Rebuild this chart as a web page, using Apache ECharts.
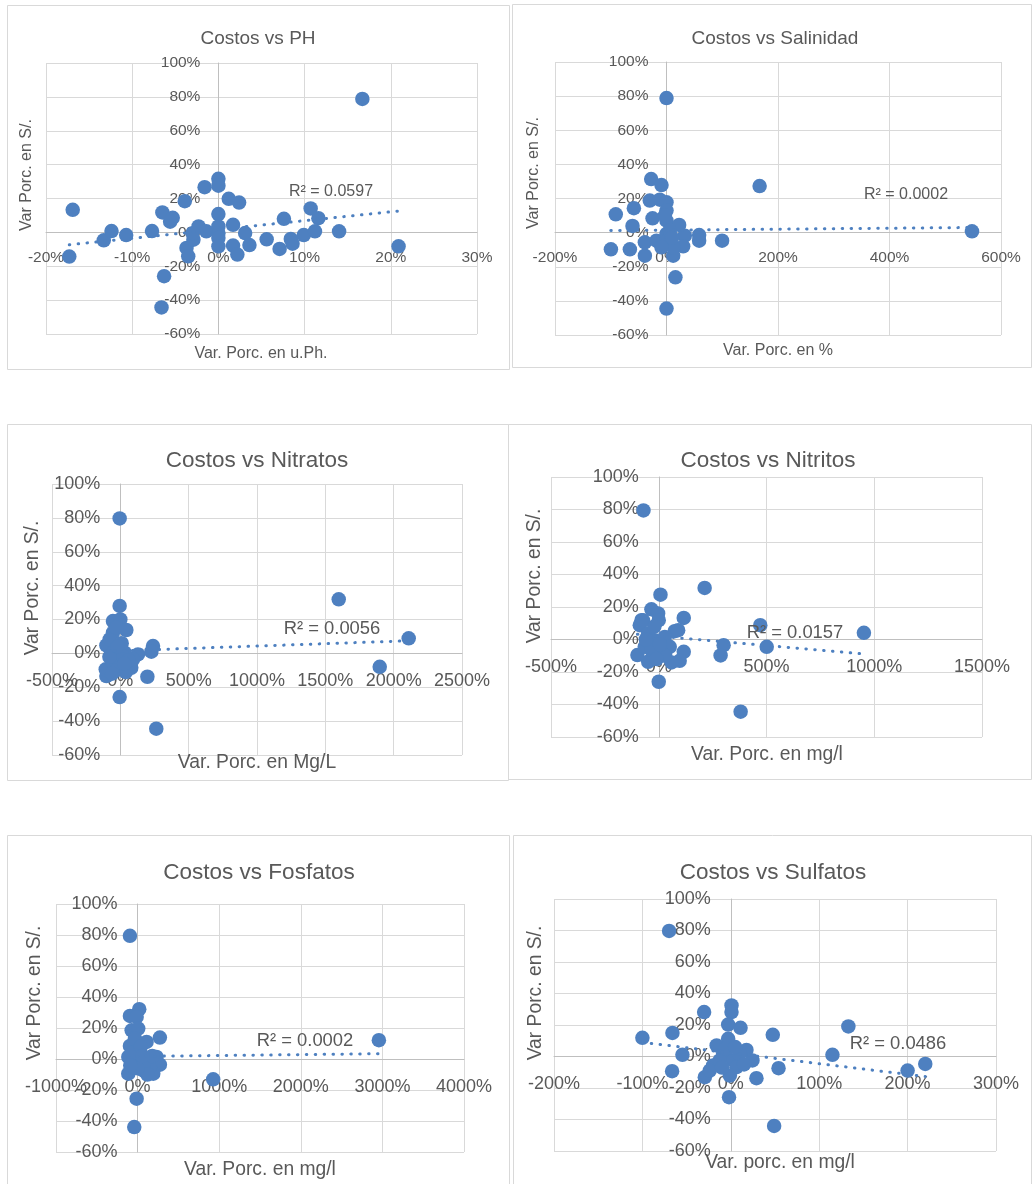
<!DOCTYPE html>
<html><head><meta charset="utf-8">
<script src="https://cdn.jsdelivr.net/npm/echarts@6/dist/echarts.min.js"></script>
<style>html,body{margin:0;padding:0;background:#fff}#c{width:1035px;height:1184px}</style>
</head><body><div id="c"></div>
<script>
// ---------------- DATA (values in %) ----------------
const phPts = [[16.7,78.8],[-16.9,13.3],[-17.3,-14.3],[-13.3,-4.7],[-12.4,0.8],[-10.7,-1.6],[-7.7,0.8],[-6.5,11.8],[-5.3,8.6],[-5.6,6.3],[-3.9,18.4],[-6.3,-25.9],[-6.6,-44.3],[-1.6,26.7],[0,31.6],[0,27.6],[1.2,19.8],[2.4,17.6],[0,10.8],[-2.3,3.5],[-1.4,0.6],[-3.7,-9.2],[-3.5,-14.1],[-2.9,-4.3],[-3.0,-0.5],[0,3.5],[0,-0.5],[0,-3.3],[0,-8.2],[1.7,4.5],[1.7,-7.8],[2.2,-13.1],[3.1,-0.4],[3.6,-7.5],[5.6,-4.1],[7.1,-9.8],[7.6,8.0],[8.4,-3.9],[8.6,-6.7],[9.9,-1.6],[10.7,14.1],[11.6,8.4],[11.2,0.6],[14.0,0.6],[20.9,-8.2]];
const phTrend = [[-17.3,-7.3],[20.9,12.6]];

const salPts = [[0,78.9],[167,27.3],[548,0.8],[-27.5,31.4],[-9,27.9],[-30,18.8],[-12,19.3],[0,17.8],[-91,10.7],[-58.5,14.3],[-61,3.9],[-25,8.4],[0,12.9],[0,7],[22.7,4.5],[32.8,-1.8],[58.5,-1.4],[58.5,-4.7],[99.7,-4.7],[29.9,-8.0],[-99.7,-9.8],[-65.7,-9.8],[-38.8,-13.5],[-38.8,-5.7],[-18,-4.7],[0,-0.8],[0,-4.7],[12,-13.5],[16,-26.2],[0,-44.5],[12,-8.6],[-9,-8.6],[6,1.2],[-3,10],[10,-3]];
const salTrend = [[-100,1.2],[548,3.0]];

const nitraPts = [[-5,79.7],[1598,31.9],[2110,8.9],[1898,-7.9],[-5,28],[-54,19.1],[0,20],[44,13.8],[-54,12.2],[-102,4.7],[-5,2.4],[129,-0.6],[239,4.3],[227,1.0],[198,-13.8],[263,-44.5],[-5,-25.8],[-102,-13.4],[-107,-9.4],[-54,-5.5],[-5,-7.5],[80,-8.5],[93,-3.5],[-54,0.4],[32,0.4],[-78,8.3],[-29,15.2],[20,-1.6],[-80,-2],[-30,-10],[40,-11],[60,-4],[10,6],[-60,-12],[-20,4],[30,-6]];
const nitraTrend = [[-107,1.2],[2110,7.45]];

const nitriPts = [[-71,79.4],[213,31.7],[8,27.6],[-34,18.6],[-3,16],[0,11.9],[-80,11.9],[-88,8.8],[116,13.3],[471,8.8],[952,4.1],[501,-4.5],[74,5.1],[301,-3.5],[287,-9.8],[380,-44.4],[0,-26],[116,-7.6],[97,-13.1],[59,-14.1],[-99,-9.6],[-49,-13.7],[-19,-0.4],[28,1.6],[51,-4.5],[-49,3.7],[-65,-4.5],[12,-8.6],[-34,-6.5],[-73,11.8],[-20,8],[30,-10],[-60,0],[5,-3],[90,5.7],[-10,-12]];
const nitriTrend = [[-99,3.2],[952,-8.9]];

const fosPts = [[-94,79.5],[2957,12.1],[926,-13.1],[20,32.1],[-94,27.8],[-12,27.1],[-73,18.5],[8,19.6],[273,13.8],[-94,8.4],[110,11],[-114,1.3],[29,4.5],[232,1.3],[273,-3.7],[192,-9.5],[-114,-9.5],[-12,-25.6],[-41,-43.9],[69,-7.3],[-53,-5.2],[-12,-0.9],[151,-5.2],[-33,13.1],[69,-3],[-60,4],[40,8],[120,-10],[0,-6],[-90,-4],[180,2],[60,2]];
const fosTrend = [[-114,1.6],[2957,3.4]];

const sulPts = [[-69.8,79.7],[-100,11.9],[-66,15],[-30.2,28.2],[0.8,32.4],[0.8,28.2],[-3,20.3],[11,18.2],[47.5,13.8],[133,19.1],[115,1.1],[200,-8.9],[220,-4.7],[54,-7.4],[29,-13.8],[49,-44.1],[-2,-25.8],[-29.4,-13.1],[-66.4,-9.3],[-54.7,1.1],[17.7,4.2],[24.5,-2.5],[-3,11.2],[-16,7],[-8.7,1.7],[2.6,-2.5],[6.4,-6.8],[-20,-5.7],[-1.1,-12.1],[-12.5,-2.5],[10,1.7],[-23.8,-8.9],[-6,5],[5,6],[15,-5],[-10,-7]];
const sulTrend = [[-100,9.0],[220,-12.7]];

const chartTitles = ['Costos vs PH','Costos vs Salinidad','Costos vs Nitratos','Costos vs Nitritos','Costos vs Fosfatos','Costos vs Sulfatos'];
const xAxisNames = ['Var. Porc. en u.Ph.','Var. Porc. en %','Var. Porc. en Mg/L','Var. Porc. en mg/l','Var. Porc. en mg/l','Var. porc. en mg/l'];
const yAxisName = 'Var Porc. en S/.';
const r2Labels = ['R² = 0.0597','R² = 0.0002','R² = 0.0056','R² = 0.0157','R² = 0.0002','R² = 0.0486'];
const xRanges = [[-20,30,10],[-200,600,200],[-500,2500,500],[-500,1500,500],[-1000,4000,1000],[-200,300,100]];
const yRange = [-60,100,20];
const allPts = [phPts, salPts, nitraPts, nitriPts, fosPts, sulPts];
const allTrends = [phTrend, salTrend, nitraTrend, nitriTrend, fosTrend, sulTrend];

// ---------------- LAYOUT ----------------
const FONT = 'Liberation Sans, Arial, sans-serif';
const TXT = '#595959';
const BLUE = '#4e80c0';
const small = {title:19, tick:15.5, name:16, r2:16, xm:17, ym:18};
const big = {title:22.5, tick:18, name:19.3, r2:18.4, xm:19, ym:20};
const layout = [
  {box:[7,5,502,364],   grid:[46,63,431,271],  title:[258,39],  xName:[261,354],  yName:[27,175],  r2:[331,192],  f:small},
  {box:[512,4,519,363], grid:[555,62,446,273], title:[775,39],  xName:[778,351],  yName:[534,173], r2:[906,195],  f:small},
  {box:[7,424,501,356], grid:[52,484,410,271], title:[257,461], xName:[257,763],  yName:[33,588],  r2:[332,629],  f:big},
  {box:[508,424,523,355],grid:[551,477,431,260],title:[768,461], xName:[767,755],  yName:[535,576], r2:[795,633],  f:big},
  {box:[7,835,502,400], grid:[56,904,408,248], title:[259,873], xName:[260,1170], yName:[35,993],  r2:[305,1041], f:big},
  {box:[513,835,518,400],grid:[554,899,442,252],title:[773,873], xName:[780,1163], yName:[536,993], r2:[898,1044], f:big}
];

const grids = [], xAxes = [], yAxes = [], series = [], graphics = [];
layout.forEach((L, i) => {
  const f = L.f;
  grids.push({left:L.grid[0], top:L.grid[1], width:L.grid[2], height:L.grid[3], containLabel:false, outerBoundsMode:'none'});
  const axisCommon = {
    type:'value', gridIndex:i,
    axisLine:{show:true, onZero:false, lineStyle:{color:'#bfbfbf', width:1}},
    axisTick:{show:false},
    splitLine:{show:true, lineStyle:{color:'#d9d9d9', width:1}},
  };
  xAxes.push(Object.assign({}, axisCommon, {
    position:'bottom', offset:0,
    min:xRanges[i][0], max:xRanges[i][1], interval:xRanges[i][2],
    axisLabel:{formatter:v => v + '%', color:TXT, fontSize:f.tick, fontFamily:FONT, margin:f.xm}
  }));
  yAxes.push(Object.assign({}, axisCommon, {
    position:'left', offset:0,
    min:yRange[0], max:yRange[1], interval:yRange[2],
    axisLabel:{formatter:v => v + '%', color:TXT, fontSize:f.tick, fontFamily:FONT, margin:f.ym}
  }));
  series.push({
    type:'scatter', xAxisIndex:i, yAxisIndex:i, data:allPts[i],
    symbol:'circle', symbolSize:14.5, itemStyle:{color:BLUE, opacity:1}, z:3, silent:true
  });
  series.push({
    type:'line', xAxisIndex:i, yAxisIndex:i, data:allTrends[i],
    showSymbol:false, symbol:'none', z:4, silent:true,
    lineStyle:{color:BLUE, width:3, type:[0.5,8.4], cap:'round'}
  });
  graphics.push({type:'rect', shape:{x:L.box[0]+0.5, y:L.box[1]+0.5, width:L.box[2], height:L.box[3]},
    style:{fill:'none', stroke:'#d9d9d9', lineWidth:1}, silent:true, z:0});
  graphics.push({type:'text', x:L.title[0], y:L.title[1], silent:true, z:10,
    style:{text:chartTitles[i], fill:TXT, font:`${f.title}px ${FONT}`, textAlign:'center', textVerticalAlign:'middle'}});
  graphics.push({type:'text', x:L.xName[0], y:L.xName[1], silent:true, z:10,
    style:{text:xAxisNames[i], fill:TXT, font:`${f.name}px ${FONT}`, textAlign:'center', textVerticalAlign:'middle'}});
  graphics.push({type:'text', x:L.yName[0], y:L.yName[1], rotation:Math.PI/2, silent:true, z:10,
    style:{text:yAxisName, fill:TXT, font:`${f.name}px ${FONT}`, textAlign:'center', textVerticalAlign:'middle'}});
  graphics.push({type:'text', x:L.r2[0], y:L.r2[1], silent:true, z:10,
    style:{text:r2Labels[i], fill:TXT, font:`${f.r2}px ${FONT}`, textAlign:'center', textVerticalAlign:'middle'}});
});

const chart = echarts.init(document.getElementById('c'), null, {renderer:'canvas'});
chart.setOption({
  backgroundColor:'#ffffff',
  animation:false,
  grid:grids, xAxis:xAxes, yAxis:yAxes, series:series,
  graphic:{elements:graphics}
});

// Move each axis so it crosses the other at 0 (Excel style), using the library's own scale.
// Repeat so the layout settles (grid rect is read back from the library each pass).
for (let pass = 0; pass < 3; pass++) {
  const xFix = [], yFix = [];
  layout.forEach((L, i) => {
    const p = chart.convertToPixel({gridIndex:i}, [0, 0]);
    const pMin = chart.convertToPixel({gridIndex:i}, [xRanges[i][0], yRange[0]]);
    xFix.push({offset: -(pMin[1] - p[1])});
    yFix.push({offset: -(p[0] - pMin[0])});
  });
  chart.setOption({xAxis:xFix, yAxis:yFix});
}
</script></body></html>
